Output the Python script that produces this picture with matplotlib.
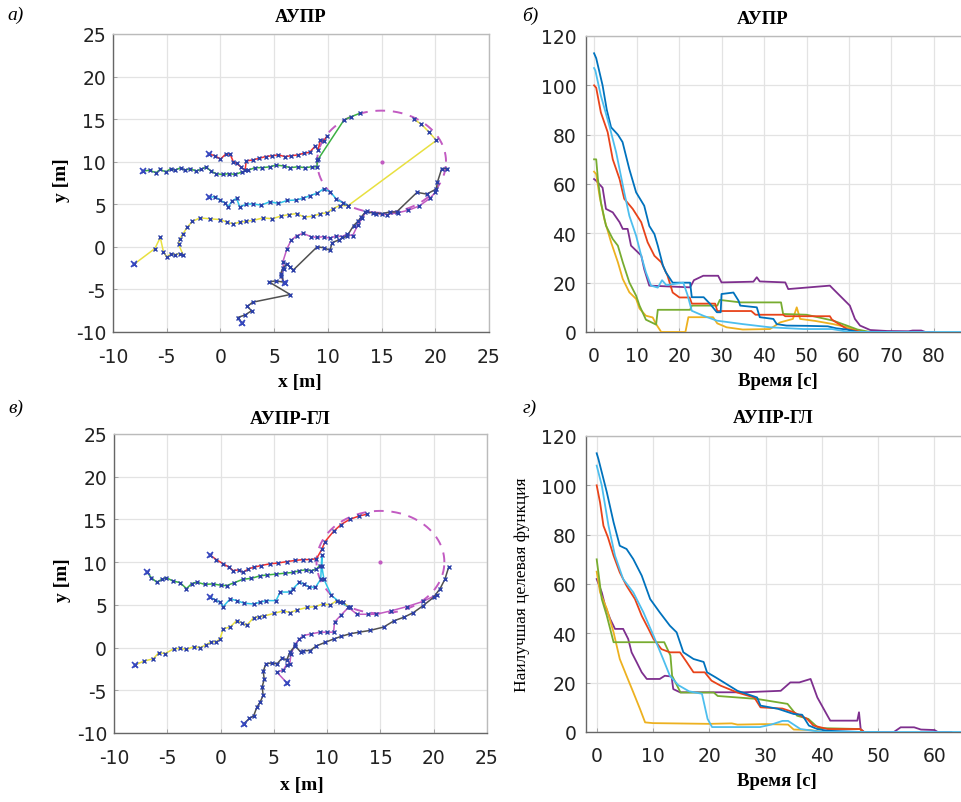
import numpy as np
import matplotlib
matplotlib.use("Agg")
import matplotlib.pyplot as plt

plt.rcParams["axes.unicode_minus"] = False

# ---------------- data: trajectories, panel а (АУПР) ----------------
a_yellow_x = [-8.0, -6.1, -5.6, -5.3, -5.0, -4.6, -4.2, -3.8, -3.45, -3.9, -3.8, -3.5, -3.1, -2.6, -1.9, -1.0, 0.0, 0.6, 1.2, 1.8, 2.4, 3.0, 4.0, 4.8, 5.6, 6.4, 7.1, 7.8, 8.6, 9.3, 9.9, 10.5, 11.1, 11.9, 20.1, 19.4, 18.7, 18.0]
a_yellow_y = [-2.0, -0.2, 1.1, -0.6, -1.2, -0.8, -0.9, -0.8, -1.0, 0.3, 0.9, 1.5, 2.3, 3.0, 3.4, 3.3, 3.2, 2.9, 2.7, 2.9, 3.0, 3.1, 3.4, 3.3, 3.6, 3.8, 3.9, 3.5, 3.6, 3.9, 4.0, 4.5, 4.85, 4.85, 12.5, 13.5, 14.4, 15.0]
a_green_x = [-7.2, -6.6, -6.0, -5.6, -5.1, -4.6, -4.2, -3.7, -3.3, -2.8, -2.3, -1.8, -1.3, -0.9, -0.4, 0.2, 0.8, 1.4, 2.0, 2.6, 3.2, 3.9, 4.6, 5.2, 5.9, 6.5, 7.2, 7.9, 8.5, 9.0, 9.0, 9.1, 11.5, 12.2, 13.0]
a_green_y = [8.9, 9.0, 8.7, 9.1, 8.8, 9.2, 9.0, 9.3, 9.0, 9.2, 8.9, 9.1, 9.4, 8.9, 8.6, 8.5, 8.6, 8.5, 8.8, 9.0, 9.3, 9.3, 9.4, 9.6, 9.5, 9.3, 9.4, 9.3, 9.4, 9.4, 10.2, 10.3, 14.9, 15.3, 15.7]
a_red_x = [-1.1, -0.5, 0.0, 0.5, 0.9, 1.2, 1.5, 1.9, 2.3, 2.4, 3.0, 3.6, 4.2, 4.8, 5.4, 6.0, 6.6, 7.2, 7.8, 8.3, 8.8, 9.1, 9.3, 9.6, 9.9]
a_red_y = [10.9, 10.7, 10.3, 10.9, 10.9, 10.0, 9.8, 9.4, 9.0, 10.1, 10.2, 10.4, 10.6, 10.7, 10.8, 10.6, 10.7, 10.8, 11.0, 11.1, 11.8, 11.4, 12.6, 12.4, 13.0]
a_cyan_x = [-1.1, -0.5, 0.0, 0.4, 0.7, 1.1, 1.5, 1.8, 2.4, 3.0, 3.8, 4.6, 5.4, 6.2, 7.0, 7.7, 8.3, 9.0, 9.6, 10.2, 10.8, 11.4, 11.9]
a_cyan_y = [5.8, 5.9, 5.45, 5.2, 4.7, 5.4, 5.7, 4.7, 5.0, 5.05, 4.9, 5.3, 5.1, 5.45, 5.5, 5.7, 6.0, 6.3, 6.8, 6.5, 5.6, 5.2, 4.85]
a_black_x = [2.0, 1.6, 2.3, 2.9, 2.5, 3.0, 6.5, 4.5, 5.2, 5.9, 5.6, 5.8, 6.2, 6.5, 6.8, 9.0, 9.6, 10.2, 10.4, 11.0, 11.8, 12.4, 12.8, 13.1, 13.5, 14.2, 15.0, 15.8, 16.4, 18.3, 19.2, 20.1, 20.2, 20.6, 21.1]
a_black_y = [-8.9, -8.3, -8.0, -7.5, -7.0, -6.5, -5.6, -4.1, -4.0, -4.15, -3.2, -2.5, -2.0, -2.4, -2.7, 0.0, -0.1, -0.4, 0.5, 0.8, 1.3, 2.5, 3.0, 3.5, 4.1, 4.0, 3.9, 4.1, 4.1, 6.4, 6.2, 6.8, 7.6, 9.2, 9.2]
a_magenta_x = [6.0, 5.6, 5.9, 5.8, 6.2, 6.6, 7.1, 7.7, 8.4, 9.0, 9.6, 10.2, 10.8, 11.3, 11.8, 12.3, 12.8, 13.2, 13.6, 14.5, 15.5, 16.5, 17.5, 18.5, 19.5, 20.0]
a_magenta_y = [-4.3, -3.4, -2.6, -1.8, -0.2, 0.8, 1.3, 1.6, 1.2, 1.1, 1.2, 1.0, 1.3, 1.2, 1.5, 1.3, 2.6, 3.4, 4.2, 3.9, 3.8, 4.0, 4.3, 4.8, 5.7, 6.4]

# ---------------- data: trajectories, panel в (АУПР-ГЛ) ----------------
c_red_x = [-1.0, -0.4, 0.25, 0.8, 1.2, 1.7, 2.1, 2.6, 3.1, 3.8, 4.6, 5.4, 6.2, 7.0, 7.75, 8.4, 9.0, 9.5, 9.8, 10.6, 11.3, 12.1, 13.0, 13.7]
c_red_y = [10.85, 10.3, 9.8, 9.4, 9.0, 9.1, 8.8, 9.2, 9.4, 9.6, 9.8, 9.9, 10.06, 10.2, 10.3, 10.3, 10.4, 11.5, 12.4, 13.6, 14.4, 15.0, 15.4, 15.6]
c_green_x = [-6.9, -6.5, -6.0, -5.5, -5.1, -4.5, -3.8, -3.2, -2.7, -2.2, -1.5, -0.7, 0.0, 0.56, 1.3, 2.1, 2.9, 3.7, 4.4, 5.2, 6.0, 6.8, 7.4, 8.0, 8.5, 9.0, 9.3]
c_green_y = [8.8, 8.2, 7.65, 8.0, 8.2, 7.8, 7.6, 6.9, 7.5, 7.65, 7.4, 7.45, 7.3, 7.25, 7.6, 8.0, 8.1, 8.4, 8.5, 8.6, 8.7, 8.8, 9.0, 9.1, 9.0, 9.2, 9.6]
c_cyan_x = [-1.0, -0.5, -0.06, 0.25, 0.9, 1.5, 2.2, 3.1, 3.7, 4.3, 5.2, 5.6, 6.5, 6.8, 7.4, 7.8, 8.3, 8.9, 9.4, 9.5, 9.5, 9.7, 10.4, 11.2, 12.1]
c_cyan_y = [5.9, 5.6, 5.3, 4.8, 5.7, 5.5, 5.2, 5.1, 5.3, 5.5, 5.5, 6.5, 6.5, 6.9, 7.65, 7.45, 7.1, 7.05, 8.0, 10.8, 9.5, 8.0, 6.1, 5.3, 4.7]
c_yellow_x = [-8.0, -7.2, -6.3, -5.8, -5.2, -4.4, -3.8, -3.2, -2.5, -1.9, -1.4, -0.9, -0.4, -0.06, 0.25, 0.9, 1.5, 2.0, 2.45, 3.1, 3.6, 4.1, 5.0, 5.9, 6.5, 7.2, 8.1, 8.9, 9.6, 10.3, 10.9, 11.5, 12.1]
c_yellow_y = [-2.0, -1.6, -1.3, -0.6, -0.7, -0.15, -0.1, -0.2, 0.1, 0.0, 0.3, 0.65, 0.7, 1.0, 2.2, 2.4, 3.15, 2.9, 2.6, 3.5, 3.6, 3.7, 4.0, 4.3, 4.1, 4.4, 4.7, 4.8, 5.1, 5.0, 5.5, 5.3, 4.7]
c_black_x = [2.2, 2.7, 3.1, 3.4, 3.7, 4.0, 3.9, 4.1, 4.0, 4.25, 4.8, 5.3, 5.8, 6.2, 6.5, 7.0, 7.5, 7.75, 8.4, 9.0, 9.8, 10.6, 11.3, 12.1, 13.0, 14.0, 15.3, 16.3, 17.2, 18.1, 19.0, 20.0, 20.6, 21.05, 21.4]
c_black_y = [-8.9, -8.3, -8.0, -7.0, -6.4, -5.6, -4.6, -3.7, -2.8, -1.9, -1.8, -1.9, -1.2, -1.5, -0.55, 0.2, -0.5, -0.36, -0.35, 0.2, 0.6, 1.0, 1.3, 1.6, 1.8, 2.0, 2.4, 3.15, 3.55, 4.1, 4.9, 5.9, 6.9, 8.0, 9.4]
c_magenta_x = [6.2, 5.3, 5.9, 6.2, 6.5, 6.6, 7.0, 7.4, 7.75, 8.5, 9.3, 10.0, 10.6, 10.7, 11.3, 12.0, 12.8, 13.8, 14.6, 16.0, 17.5, 19.0, 20.3]
c_magenta_y = [-4.1, -2.9, -2.6, -2.0, -1.9, -0.8, 0.4, 1.0, 1.4, 1.6, 1.8, 1.8, 1.8, 3.0, 3.8, 4.7, 3.9, 3.9, 3.9, 4.3, 4.8, 5.4, 6.2]

# target circle
circle_center = (15.0, 10.0)
circle_radius = 6.0

# ---------------- data: best objective, panel б (АУПР) ----------------
b_blue_t = [0, 0.5, 2, 3, 4, 5.6, 6.7, 8.3, 9.9, 11.8, 13.0, 14.2, 15.0, 16.2, 16.9, 18.5, 22.6, 23.0, 25.8, 27.3, 28.9, 29.8, 30.0, 32.8, 34.0, 34.4, 38.3, 39.0, 42.2, 43.0, 45.3, 50, 55, 57, 59.5, 62, 70]
b_blue_v = [113, 111, 100, 90, 83, 80, 77, 66, 56.6, 51.2, 43, 39.7, 35, 27, 24.2, 20, 20, 14.1, 14.1, 11.4, 8.0, 8.0, 15.4, 16, 12.7, 10.7, 10, 6, 5.3, 3.2, 2.6, 2.5, 2.3, 1.5, 1, 0, 0]
b_cyan_t = [0, 0.3, 1.6, 3.6, 5.2, 6.0, 7.1, 8.3, 9.9, 11.1, 12.2, 13.4, 15, 16, 17, 21, 22, 23, 25.7, 28.9, 35, 41.4, 49.3, 56, 60, 86.6]
b_cyan_v = [107, 106, 95.8, 83.6, 72.8, 66, 56.6, 47.1, 39, 30.9, 24.2, 18.8, 18, 21, 19, 20, 15, 8.6, 6.6, 4.6, 3.2, 1.9, 1.2, 1.2, 0, 0]
b_red_t = [0, 0.5, 1.6, 3.2, 4.4, 6.0, 7.1, 9.1, 11.1, 12.6, 14.2, 15.8, 17.3, 18.5, 20.1, 22.5, 23.0, 28.5, 29.0, 37, 38, 44.5, 45, 55.5, 56, 59.5, 63, 70]
b_red_v = [100, 99, 89, 81, 70, 62, 54, 49.9, 44.5, 36.4, 30.9, 28.3, 22.8, 16, 14, 14, 11.5, 11.5, 8.5, 8.5, 7, 7, 6.4, 6.4, 5, 1.2, 0, 0]
b_green_t = [0, 0.5, 0.9, 1.6, 2.8, 4.4, 5.6, 6.75, 8.3, 9.9, 10.7, 12.2, 14.6, 15.0, 22.6, 23, 29.0, 29.6, 34.5, 35, 44, 44.5, 50, 56.3, 59.5, 62, 65, 70]
b_green_v = [70, 70, 62, 52.6, 43.1, 37.7, 35, 28.3, 20.1, 14.7, 10.7, 5, 3, 9, 9, 10.7, 10.7, 13, 12, 12, 12, 7.3, 7, 4.6, 2.6, 1, 0, 0]
b_yellow_t = [0, 0.5, 1.3, 2.4, 4.0, 5.6, 6.75, 8.3, 9.9, 10.7, 12.2, 13.8, 14.6, 15.8, 21.5, 22.2, 28, 29, 31.2, 35, 41.4, 43.8, 46.8, 47.7, 48.5, 52, 56.3, 59.5, 62.6, 70]
b_yellow_v = [65, 64, 55, 45.8, 36.4, 28.3, 21.5, 16.1, 13.4, 9.5, 6.6, 5.9, 3.2, 0, 0, 6, 6, 3.5, 1.9, 1, 1.2, 3.9, 5.3, 10, 5.3, 4.5, 3.2, 2, 0, 0]
b_purple_t = [0, 0.5, 2, 2.8, 4.4, 6.0, 6.75, 7.9, 8.7, 11.1, 11.8, 13.0, 22.6, 23.5, 25.7, 29.2, 30, 37.5, 38.3, 39, 45, 45.7, 55.5, 56.3, 60.2, 61.4, 62.6, 65, 69, 74, 75, 77, 78, 80]
b_purple_v = [62, 61.3, 58.5, 49.9, 48.5, 44.5, 41.8, 41.8, 35, 31, 25.5, 18.8, 18.1, 21, 22.8, 22.8, 20.1, 20.4, 22.2, 20.5, 20.1, 17.4, 18.8, 17.4, 10.7, 5.3, 2.6, 0.8, 0.4, 0.3, 0.6, 0.6, 0, 0]

# ---------------- data: best objective, panel г (АУПР-ГЛ) ----------------
d_blue_t = [0, 0.3, 1.8, 3.0, 4.1, 5.3, 6.5, 8.0, 9.5, 11.2, 13.0, 14.2, 15.4, 17.2, 19.0, 19.6, 21.1, 25.0, 28.5, 29.1, 32.2, 35.0, 36.5, 37.7, 39.2, 41, 47, 50]
d_blue_v = [113, 110.7, 97.2, 85, 75.5, 74.2, 70.1, 63.4, 53.9, 48.5, 43.1, 40.4, 32.3, 29.6, 28.4, 24.2, 22.2, 16.7, 14, 10.7, 9.4, 7.3, 7.0, 2.6, 1.2, 0.5, 0, 0]
d_cyan_t = [0, 0.9, 2.1, 3.25, 4.7, 6.5, 8.3, 10.1, 11.8, 13.0, 14.5, 16.4, 18.7, 19.7, 20.5, 29, 31, 33, 34, 35, 36.2, 40, 64.9]
d_cyan_v = [108, 100, 83.6, 71.5, 62, 56.6, 48.5, 39, 29.6, 22.8, 19, 16.5, 15.5, 5.3, 2, 2, 3, 4.5, 4.5, 3, 1.2, 0, 0]
d_red_t = [0, 0.6, 1.2, 2, 3, 4.1, 5.3, 6.8, 8, 9.2, 10.1, 11.5, 13, 14.8, 16, 17.2, 19.2, 20.4, 22, 25, 28, 29.1, 33, 35, 37.4, 38.5, 41, 46.8, 47.5, 50]
d_red_v = [100, 93, 83.6, 78.9, 71.5, 64.7, 59.3, 53.9, 47.1, 41.8, 37.7, 33.6, 32.3, 32.3, 28.3, 24.2, 24.2, 20.8, 18.8, 16, 14, 10, 9.5, 8, 5.3, 2.6, 1.2, 1.2, 0, 0]
d_green_t = [0, 0.3, 0.9, 1.8, 3.0, 12.0, 13.1, 13.4, 14.9, 20.8, 21.5, 28.5, 33.9, 35.6, 37.6, 39.4, 46.8, 47.2, 50]
d_green_v = [70, 64.7, 53.9, 47.1, 36.4, 36.4, 31, 22.8, 16, 16, 14.6, 13.4, 11.4, 6.6, 5.3, 1.6, 1.2, 0, 0]
d_yellow_t = [0, 0.6, 1.8, 3.0, 4.1, 5.3, 6.5, 7.7, 8.6, 10, 20, 24, 25, 30, 34, 35, 38, 40, 50]
d_yellow_v = [65, 56.6, 49.9, 40.4, 29.6, 22.8, 16.1, 9.3, 3.9, 3.6, 3.3, 3.5, 3, 3.2, 3, 1, 0.8, 0, 0]
d_purple_t = [0, 0.9, 1.5, 2.4, 3.25, 4.7, 5.6, 6.2, 7.1, 8.0, 8.9, 11.2, 12.1, 13.3, 13.6, 14.8, 20.2, 26.2, 32.7, 34.4, 36, 38, 39.2, 41, 41.5, 46.3, 46.6, 46.9, 47.5, 52.8, 54, 56.4, 57.6, 60, 60.6, 63]
d_purple_v = [62, 56.6, 51.2, 45.8, 41.8, 41.8, 37.7, 32.3, 28.3, 24.2, 21.5, 21.5, 22.8, 22.5, 17.4, 16.1, 16.1, 16.1, 16.7, 20.1, 20.1, 21.5, 14, 6.6, 4.6, 4.6, 8, 1.2, 0, 0, 1.9, 1.9, 1, 0.8, 0, 0]

traj_ticks = [-10, -5, 0, 5, 10, 15, 20, 25]
b_xticks = [0, 10, 20, 30, 40, 50, 60, 70, 80]
d_xticks = [0, 10, 20, 30, 40, 50, 60]
obj_yticks = [0, 20, 40, 60, 80, 100, 120]

# ---------------- styling ----------------
W, H = 962, 803
fig = plt.figure(figsize=(W / 100, H / 100), dpi=100)
SERIF = ["Liberation Serif", "DejaVu Serif"]
TICKFONT = ["DejaVu Sans"]

C_BLUE = "#0072BD"
C_CYAN = "#4DBEEE"
C_RED = "#E8431A"
C_GREEN = "#77AC30"
C_YELLOW = "#EDB120"
C_PURPLE = "#7E2F8E"

T_RED = "#F03030"
T_GREEN = "#3CB043"
T_CYAN = "#2EC4E6"
T_YELLOW = "#E8E040"
T_BLACK = "#505050"
T_MAG = "#C25BC2"
MK = "#2B3FA8"


def make_ax(l, t, r, b):
    ax = fig.add_axes([l / W, 1 - b / H, (r - l) / W, (b - t) / H])
    ax.grid(True, color="#e3e3e3", lw=0.9)
    ax.set_axisbelow(True)
    for s in ("left", "bottom"):
        ax.spines[s].set_color("#666666")
    for s in ("top", "right"):
        ax.spines[s].set_color("#bbbbbb")
    for s in ax.spines.values():
        s.set_linewidth(1.0)
    ax.tick_params(direction="in", length=3, width=0.6, color="#999999",
                   labelsize=13.5, labelcolor="#222222")
    return ax


def fix_tickfont(ax):
    for lab in ax.get_xticklabels() + ax.get_yticklabels():
        lab.set_fontfamily(TICKFONT)


def traj_panel(ax, trajs):
    th = np.linspace(0, 2 * np.pi, 400)
    ax.plot(circle_center[0] + circle_radius * np.cos(th),
            circle_center[1] + circle_radius * np.sin(th),
            color=T_MAG, lw=1.4, dashes=(5, 4), zorder=2)
    ax.plot([circle_center[0]], [circle_center[1]], "o", ms=2, color=T_MAG, zorder=3)
    for x, y, c in trajs:
        ax.plot(x, y, color=c, lw=1.1, zorder=3)
        ax.plot(x, y, ls="none", marker="x", ms=2.6, mew=1.0, color=MK, zorder=4)
        ax.plot(x[0], y[0], ls="none", marker="x", ms=5, mew=1.2, color="#3748C0", zorder=5)
    ax.set_xlim(-10, 25)
    ax.set_ylim(-10, 25)
    ax.set_xticks(traj_ticks)
    ax.set_yticks(traj_ticks)
    ax.tick_params(axis="x", pad=11)
    ax.tick_params(axis="y", pad=5)
    fix_tickfont(ax)


def obj_panel(ax, series, xmax, xticks):
    for t, v, c in series:
        ax.plot(t, v, color=c, lw=1.3, zorder=3)
    ax.set_xlim(-1.9, xmax)
    ax.set_ylim(0, 120)
    ax.set_xticks(xticks)
    ax.set_yticks(obj_yticks)
    ax.tick_params(axis="x", pad=10)
    ax.tick_params(axis="y", pad=7)
    fix_tickfont(ax)


# panel а
ax_a = make_ax(113, 35, 489, 333)
traj_panel(ax_a, [
    (a_magenta_x, a_magenta_y, T_MAG),
    (a_black_x, a_black_y, T_BLACK),
    (a_cyan_x, a_cyan_y, T_CYAN),
    (a_yellow_x, a_yellow_y, T_YELLOW),
    (a_green_x, a_green_y, T_GREEN),
    (a_red_x, a_red_y, T_RED),
])

# panel б
ax_b = make_ax(586, 37, 962, 333)
obj_panel(ax_b, [
    (b_purple_t, b_purple_v, C_PURPLE),
    (b_yellow_t, b_yellow_v, C_YELLOW),
    (b_green_t, b_green_v, C_GREEN),
    (b_red_t, b_red_v, C_RED),
    (b_blue_t, b_blue_v, C_BLUE),
    (b_cyan_t, b_cyan_v, C_CYAN),
], 86.6, b_xticks)

# panel в
ax_c = make_ax(114, 435, 487, 734)
traj_panel(ax_c, [
    (c_magenta_x, c_magenta_y, T_MAG),
    (c_black_x, c_black_y, T_BLACK),
    (c_cyan_x, c_cyan_y, T_CYAN),
    (c_yellow_x, c_yellow_y, T_YELLOW),
    (c_green_x, c_green_y, T_GREEN),
    (c_red_x, c_red_y, T_RED),
])

# panel г
ax_d = make_ax(586, 437, 962, 733)
obj_panel(ax_d, [
    (d_purple_t, d_purple_v, C_PURPLE),
    (d_yellow_t, d_yellow_v, C_YELLOW),
    (d_green_t, d_green_v, C_GREEN),
    (d_red_t, d_red_v, C_RED),
    (d_blue_t, d_blue_v, C_BLUE),
    (d_cyan_t, d_cyan_v, C_CYAN),
], 64.9, d_xticks)


def ftext(x, y, s, **kw):
    fig.text(x / W, 1 - y / H, s, family=SERIF, ha="center", va="center", **kw)


# panel letters
ftext(16, 15, "а)", fontsize=14, style="italic")
ftext(530, 16, "б)", fontsize=14, style="italic")
ftext(16, 408, "в)", fontsize=14, style="italic")
ftext(530, 408, "г)", fontsize=14, style="italic")

# titles
ftext(301, 18, "АУПР", fontsize=13.5, weight="bold")
ftext(763, 19, "АУПР", fontsize=13.5, weight="bold")
ftext(290, 420, "АУПР-ГЛ", fontsize=13.5, weight="bold")
ftext(773, 419, "АУПР-ГЛ", fontsize=13.5, weight="bold")

# axis labels
ftext(300, 383, "x [m]", fontsize=14, weight="bold")
ftext(302, 786, "x [m]", fontsize=14, weight="bold")
ftext(778, 382, "Время [c]", fontsize=13.5, weight="bold")
ftext(777, 782, "Время [c]", fontsize=13.5, weight="bold")
ftext(62, 180, "y [m]", fontsize=14, weight="bold", rotation=90)
ftext(63, 580, "y [m]", fontsize=14, weight="bold", rotation=90)
ftext(522, 585, "Наилучшая целевая функция", fontsize=12.5, rotation=90)

fig.savefig("out.png", dpi=100)
